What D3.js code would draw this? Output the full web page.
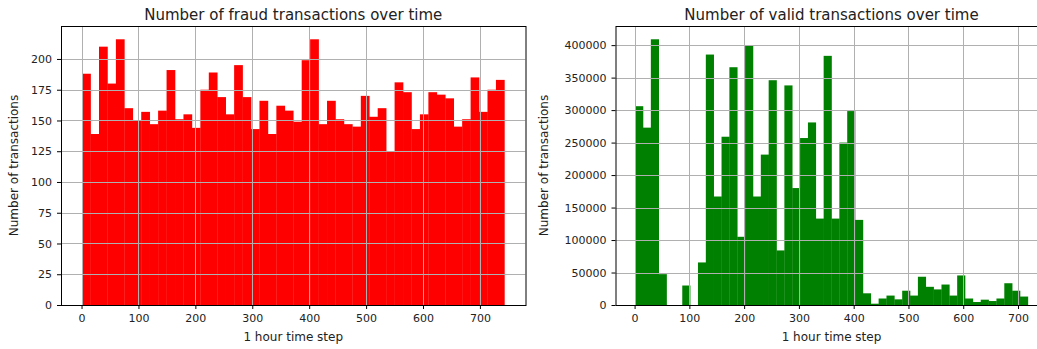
<html>
<head>
<meta charset="utf-8">
<title>Transactions over time</title>
<script src="https://d3js.org/d3.v7.min.js"></script>
<style>
  body { margin: 0; background: #fff; }
  svg { display: block; }
  text { font-family: "DejaVu Sans", sans-serif; fill: #222; }
</style>
</head>
<body>
<svg id="chart" width="1037" height="349"></svg>
<script>
// counts per bin (50 bins each)
var fraudCounts = [188, 139, 210, 180, 216, 160, 150, 157, 147, 158,
                   191, 151, 155, 144, 175, 189, 169, 155, 195, 169,
                   143, 166, 139, 162, 158, 149, 199, 216, 147, 166,
                   151, 147, 145, 170, 153, 160, 125, 181, 173, 143,
                   155, 173, 171, 168, 145, 151, 185, 157, 175, 183];

var validCounts = [306000, 273000, 409000, 47500, 0, 0, 30000, 0, 65500, 385500,
                   167000, 259000, 366000, 105000, 400000, 167000, 231500, 346000, 84000, 338000,
                   180000, 257000, 281000, 133000, 383500, 133000, 250000, 298500, 131000, 18000,
                   2000, 10000, 14500, 8700, 22000, 14500, 43500, 28000, 24000, 31500,
                   14500, 45500, 10000, 4600, 8200, 6100, 10000, 33500, 22000, 13000];

// first and last time step of each data set (bin range)
var fraudRange = [1, 743];
var validRange = [1, 718];

var xTickValues = [0, 100, 200, 300, 400, 500, 600, 700];
var fraudYTicks = [0, 25, 50, 75, 100, 125, 150, 175, 200];
var validYTicks = [0, 50000, 100000, 150000, 200000, 250000, 300000, 350000, 400000];

var titles = ["Number of fraud transactions over time", "Number of valid transactions over time"];
var xLabel = "1 hour time step";
var yLabel = "Number of transactions";

var svg = d3.select("#chart");
var top_ = 26, bottom = 305;

function drawPanel(opt) {
  var counts = opt.counts;
  var lo = opt.range[0], hi = opt.range[1];
  var pad = (hi - lo) * 0.05;
  var n = counts.length;
  var step = (hi - lo) / n;

  var x = d3.scaleLinear().domain([lo - pad, hi + pad]).range([opt.left, opt.right]);
  var y = d3.scaleLinear().domain([0, d3.max(counts) * 1.05]).range([bottom, top_]);

  var g = svg.append("g");

  g.append("clipPath").attr("id", "clip" + opt.id)
    .append("rect")
      .attr("x", opt.left).attr("y", top_)
      .attr("width", opt.right - opt.left).attr("height", bottom - top_);

  // bars
  g.append("g")
    .attr("clip-path", "url(#clip" + opt.id + ")")
    .selectAll("rect")
    .data(counts)
    .enter().append("rect")
      .attr("x", function(d, i) { return x(lo + i * step); })
      .attr("width", function(d, i) { return x(lo + (i + 1) * step) - x(lo + i * step) + 0.3; })
      .attr("y", function(d) { return y(d); })
      .attr("height", function(d) { return bottom - y(d); })
      .attr("fill", opt.color);

  // grid on top of the bars, like matplotlib
  var grid = g.append("g").attr("clip-path", "url(#clip" + opt.id + ")");
  grid.selectAll("line.vx")
    .data(xTickValues)
    .enter().append("line")
      .attr("x1", function(d) { return Math.round(x(d)) + 0.5; })
      .attr("x2", function(d) { return Math.round(x(d)) + 0.5; })
      .attr("y1", top_).attr("y2", bottom)
      .attr("stroke", "#b0b0b0").attr("stroke-width", 1);
  grid.selectAll("line.hy")
    .data(opt.yTicks)
    .enter().append("line")
      .attr("x1", opt.left).attr("x2", opt.right)
      .attr("y1", function(d) { return Math.round(y(d)) + 0.5; })
      .attr("y2", function(d) { return Math.round(y(d)) + 0.5; })
      .attr("stroke", "#b0b0b0").attr("stroke-width", 1);

  // axes
  var xAxis = d3.axisBottom(x).tickValues(xTickValues).tickSize(4).tickPadding(5);
  var yAxis = d3.axisLeft(y).tickValues(opt.yTicks).tickSize(4).tickPadding(5)
                .tickFormat(d3.format("d"));

  var gx = g.append("g").attr("transform", "translate(0," + bottom + ")").call(xAxis);
  var gy = g.append("g").attr("transform", "translate(" + opt.left + ",0)").call(yAxis);
  [gx, gy].forEach(function(a) {
    a.select(".domain").remove();
    a.selectAll("line").attr("stroke", "#000");
    a.selectAll("text").style("font-family", "DejaVu Sans").style("font-size", "11px").attr("fill", "#222");
  });

  // spines
  g.append("rect")
    .attr("x", opt.left + 0.5).attr("y", top_ + 0.5)
    .attr("width", opt.right - opt.left).attr("height", bottom - top_)
    .attr("fill", "none").attr("stroke", "#000").attr("stroke-width", 1);

  g.append("text")
    .attr("x", (opt.left + opt.right) / 2).attr("y", 20)
    .attr("text-anchor", "middle")
    .style("font-size", "15px")
    .text(opt.title);

  g.append("text")
    .attr("x", (opt.left + opt.right) / 2).attr("y", 341)
    .attr("text-anchor", "middle")
    .style("font-size", "12px")
    .text(xLabel);

  g.append("text")
    .attr("transform", "translate(" + opt.ylabelX + "," + (top_ + bottom) / 2 + ") rotate(-90)")
    .attr("text-anchor", "middle")
    .style("font-size", "12px")
    .text(yLabel);
}

drawPanel({ id: 0, counts: fraudCounts, range: fraudRange, color: "#ff0000",
            left: 61, right: 525.5, yTicks: fraudYTicks, title: titles[0], ylabelX: 18 });
drawPanel({ id: 1, counts: validCounts, range: validRange, color: "#008000",
            left: 615.5, right: 1047.5, yTicks: validYTicks, title: titles[1], ylabelX: 548 });
</script>
</body>
</html>
